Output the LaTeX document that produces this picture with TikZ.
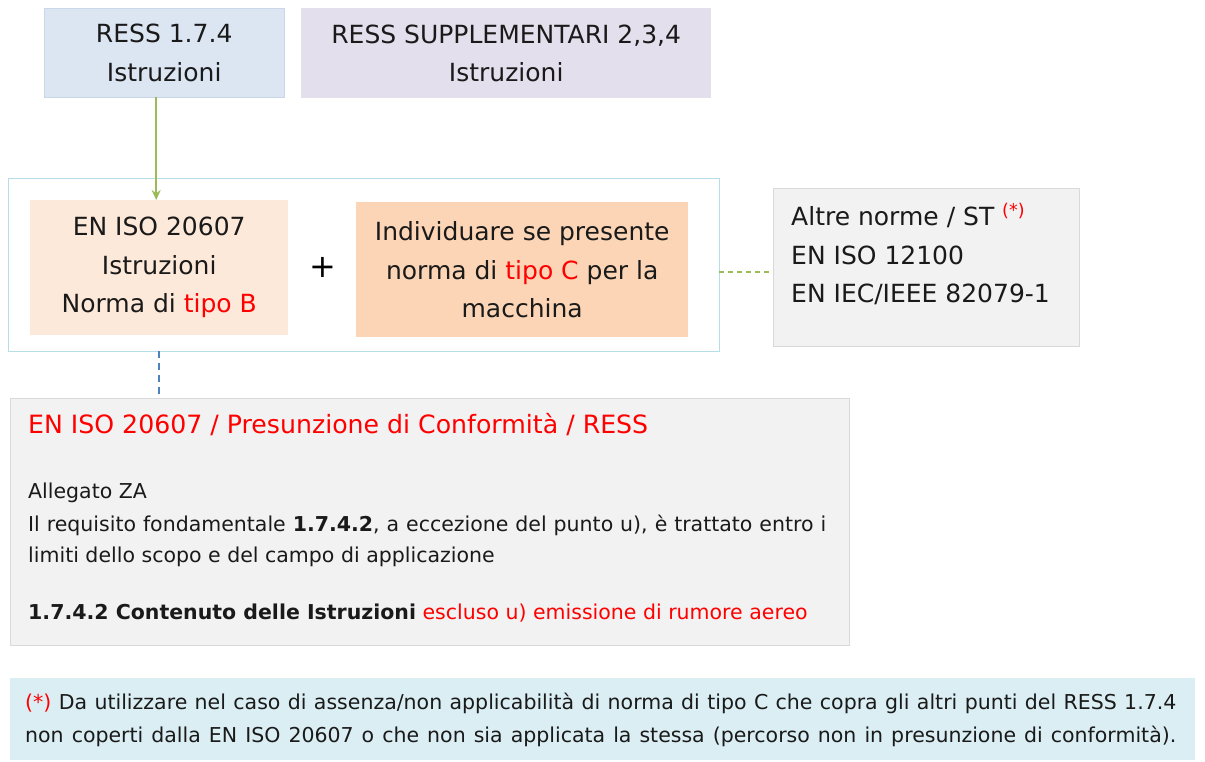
\documentclass[tikz,border=0pt]{standalone}
\usepackage{fontspec}
\setmainfont{DejaVu Sans}
\usetikzlibrary{arrows.meta}

\definecolor{ressblue}{HTML}{DCE6F2}
\definecolor{ressblueline}{HTML}{C9D7E8}
\definecolor{resslilac}{HTML}{E4DFEC}
\definecolor{groupline}{HTML}{B7DDE8}
\definecolor{peachlight}{HTML}{FDE9D9}
\definecolor{peach}{HTML}{FBD5B5}
\definecolor{panelgray}{HTML}{F2F2F2}
\definecolor{panelline}{HTML}{D9D9D9}
\definecolor{notecyan}{HTML}{DAEEF3}
\definecolor{linkgreen}{HTML}{9BBB59}
\definecolor{linkblue}{HTML}{4F81BD}
\definecolor{textdark}{HTML}{1A1A1A}

\begin{document}
\begin{tikzpicture}[x=1pt, y=-1pt, >={Stealth[length=10pt, width=9pt]},
    box/.style={rectangle, inner sep=0pt, anchor=north west, align=center,
      text=textdark, font=\fontsize{25}{38.5}\selectfont},
    line/.style={inner sep=0pt, anchor=west, text=textdark,
      font=\fontsize{20.5}{24}\selectfont}]

  \useasboundingbox (0,0) rectangle (1205,762);

  % Top requirement boxes
  \node[box, fill=ressblue, draw=ressblueline, minimum width=240pt, minimum height=89pt]
    (ress174) at (44,8) {RESS 1.7.4\\Istruzioni};
  \node[box, fill=resslilac, minimum width=410pt, minimum height=90pt]
    (resssupp) at (301,8) {RESS SUPPLEMENTARI 2,3,4\\Istruzioni};

  % Group with type B and type C standards
  \node[box, draw=groupline, minimum width=711pt, minimum height=173pt]
    (group) at (8,178) {};
  \node[box, fill=peachlight, minimum width=258pt, minimum height=135pt]
    (tipoB) at (30,200) {EN ISO 20607\\Istruzioni\\Norma di \textcolor{red}{tipo B}};
  \node[box, fill=peach, minimum width=332pt, minimum height=135pt]
    (tipoC) at (356,202) {Individuare se presente\\norma di \textcolor{red}{tipo C} per la\\macchina};
  \node[inner sep=0pt, font=\fontsize{32}{32}\selectfont] (plus) at (323,267) {+};

  % Other standards
  \node[box, fill=panelgray, draw=panelline, minimum width=306pt, minimum height=158pt]
    (altre) at (773,188) {};
  \node[inner sep=0pt, anchor=north west, align=left, text=textdark,
    font=\fontsize{25}{38.5}\selectfont] (altretxt) at (791,203)
    {Altre norme / ST \textsuperscript{\textcolor{red}{(*)}}\\EN ISO 12100\\EN IEC/IEEE 82079-1};

  % Presumption of conformity panel
  \node[box, fill=panelgray, draw=panelline, minimum width=839pt, minimum height=247pt]
    (conf) at (10,398) {};
  \node[line, text=red, font=\fontsize{25.2}{30}\selectfont] (conftitle) at (28,425)
    {EN ISO 20607 / Presunzione di Conformità / RESS};
  \node[line] (allegato) at (28,493) {Allegato ZA};
  \node[line] (requisito) at (28,525)
    {\makebox[798pt][s]{Il requisito fondamentale \textbf{1.7.4.2}, a eccezione del punto u), è trattato entro i}};
  \node[line] (limiti) at (28,557)
    {limiti dello scopo e del campo di applicazione};
  \node[line] (contenuto) at (28,613)
    {\textbf{1.7.4.2 Contenuto delle Istruzioni} \textcolor{red}{escluso u) emissione di rumore aereo}};

  % Footnote
  \node[box, fill=notecyan, minimum width=1185pt, minimum height=82pt] (nota) at (10,678) {};
  \node[line] (nota1) at (25,703)
    {\makebox[1151pt][s]{\textcolor{red}{(*)} Da utilizzare nel caso di assenza/non applicabilità di norma di tipo C che copra gli altri punti del RESS 1.7.4}};
  \node[line] (nota2) at (25,736)
    {\makebox[1151pt][s]{non coperti dalla EN ISO 20607 o che non sia applicata la stessa (percorso non in presunzione di conformità).}};

  % Connectors
  \draw[->, linkgreen, line width=2pt]
    ([xshift=-3pt]ress174.south -| tipoB.north) -- ([xshift=-3pt]tipoB.north);
  \draw[linkgreen, line width=2pt, dash pattern=on 5pt off 4pt]
    ([yshift=-5pt]altre.west -| group.east) -- ([yshift=-5pt]altre.west);
  \draw[linkblue, line width=2pt, dash pattern=on 7pt off 5pt]
    (tipoB.south |- group.south) -- (tipoB.south |- conf.north);

\end{tikzpicture}
\end{document}
